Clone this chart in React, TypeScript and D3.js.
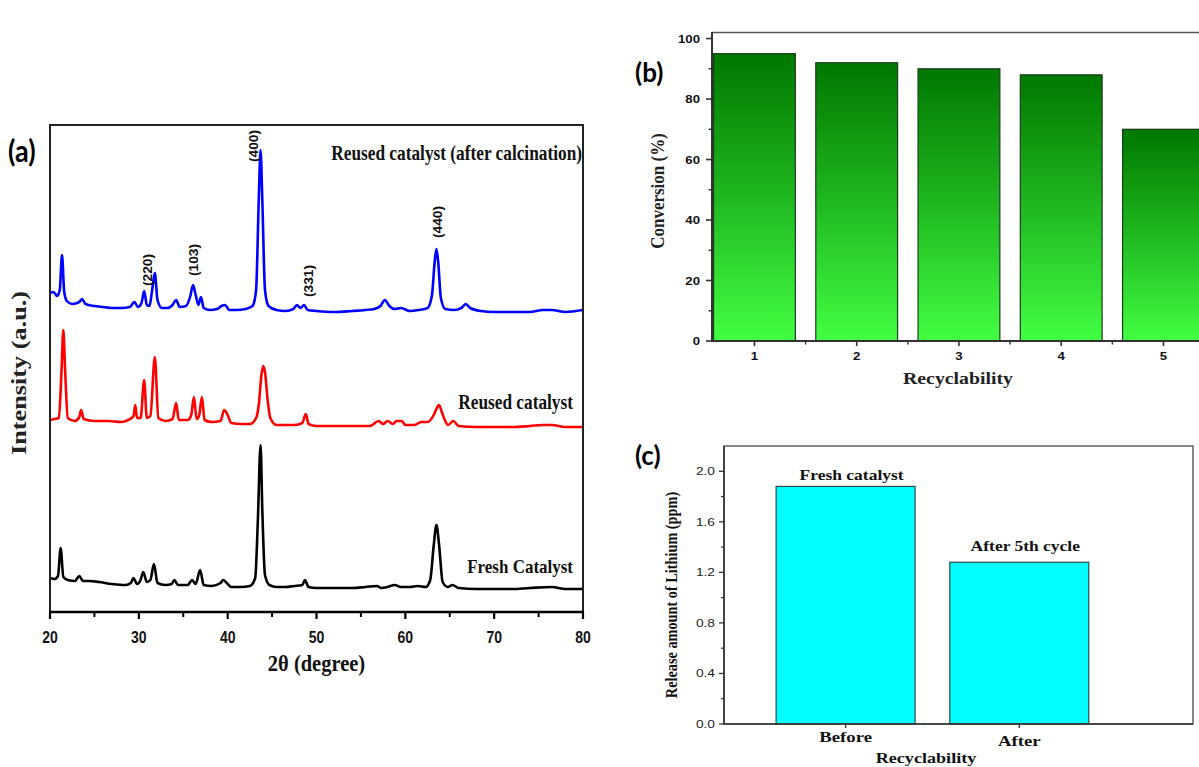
import React from 'react';
import * as d3 from 'd3';

// ---------- Panel (a): XRD patterns (2θ in degrees, intensity in a.u., stacked) ----------
const xrdTicks = [20, 30, 40, 50, 60, 70, 80];
const xrdMinorTicks = [25, 35, 45, 55, 65, 75];

const calcinedPattern: [number, number][] = [
  [20.0, 319], [20.4, 320], [20.8, 316], [21.1, 322], [21.35, 357], [21.6, 320], [21.9, 311],
  [22.5, 308], [23.3, 310], [23.6, 313], [24.0, 308], [25, 306], [26, 305], [27, 304], [28, 304],
  [29.0, 305], [29.5, 310], [29.9, 305], [30.3, 309], [30.6, 321], [30.9, 307], [31.2, 306],
  [31.5, 322], [31.8, 339], [32.1, 312], [32.6, 304], [33.2, 304], [33.8, 307], [34.2, 312],
  [34.6, 305], [35.3, 306], [35.8, 316], [36.1, 327], [36.4, 317], [36.7, 307], [37.0, 315],
  [37.3, 304], [38, 302], [38.8, 303], [39.3, 306], [39.7, 307], [40.2, 302], [41, 302], [42, 303],
  [42.8, 306], [43.2, 322], [43.5, 412], [43.7, 462], [43.9, 412], [44.2, 322], [44.6, 306],
  [45.5, 302], [46.5, 301], [47.4, 303], [47.8, 307], [48.2, 304], [48.6, 307], [49.0, 302],
  [50, 301], [52, 300], [54, 301], [55.5, 302], [56.5, 303], [57.2, 306], [57.7, 312], [58.2, 306],
  [58.8, 303], [59.5, 304], [60.5, 301], [61.5, 302], [62.5, 304], [63.0, 317], [63.3, 350],
  [63.5, 363], [63.7, 350], [64.0, 314], [64.5, 303], [65.5, 302], [66.3, 304], [66.8, 308],
  [67.3, 304], [68.5, 301], [70, 300], [72, 300], [74, 300], [75.5, 302], [76.5, 302], [78, 300], [80, 302],
];

const reusedPattern: [number, number][] = [
  [20.0, 192], [20.5, 193], [21.0, 194], [21.3, 242], [21.5, 282], [21.7, 242], [22.0, 194],
  [22.8, 191], [23.3, 195], [23.5, 202], [23.8, 193], [25, 191], [26.5, 191], [28, 190],
  [28.8, 192], [29.4, 196], [29.6, 207], [29.8, 194], [30.2, 194], [30.6, 232], [30.9, 194],
  [31.3, 196], [31.8, 255], [32.2, 194], [33, 191], [33.8, 193], [34.2, 209], [34.5, 192],
  [35.5, 192], [35.9, 197], [36.2, 215], [36.5, 193], [36.8, 197], [37.1, 215], [37.4, 192],
  [38.2, 190], [39.2, 191], [39.6, 202], [40.0, 197], [40.4, 189], [41.5, 188], [42.5, 188],
  [43.2, 194], [43.5, 207], [43.8, 237], [44.0, 246], [44.2, 240], [44.5, 212], [44.8, 194],
  [45.5, 187], [46.5, 187], [47.5, 187], [48.4, 189], [48.8, 198], [49.1, 188], [50, 186],
  [52, 186], [54, 186], [56, 186], [57.0, 191], [57.5, 188], [58.0, 191], [58.6, 188], [59.0, 191],
  [59.6, 191], [60, 187], [61, 187], [61.8, 190], [62.5, 190], [63.2, 197], [63.6, 205],
  [63.8, 207], [64.1, 200], [64.4, 193], [64.8, 187], [65.4, 191], [66, 186], [68, 185], [70, 185],
  [72, 185], [74, 186], [75.5, 187], [76.5, 187], [78, 185], [80, 185],
];

const freshPattern: [number, number][] = [
  [20, 34], [20.5, 33], [20.9, 36], [21.2, 64], [21.5, 35], [22, 32], [22.8, 31], [23.3, 36],
  [23.7, 31], [24.5, 31], [25.5, 30], [27, 28], [28.5, 27], [29.1, 29], [29.4, 34], [29.8, 28],
  [30.2, 32], [30.5, 40], [30.9, 30], [31.3, 32], [31.7, 48], [32.1, 29], [33, 27], [33.7, 28],
  [34.0, 32], [34.4, 27], [35.5, 27], [36.0, 32], [36.4, 28], [36.9, 42], [37.3, 27], [38.2, 26],
  [39.2, 29], [39.5, 32], [39.9, 29], [40.4, 25], [41.5, 25], [42.5, 26], [43.1, 34], [43.4, 92],
  [43.7, 167], [43.9, 102], [44.2, 37], [44.7, 27], [45.5, 25], [46.5, 25], [47.5, 26], [48.4, 27],
  [48.7, 32], [49.1, 25], [50, 24], [52, 24], [54, 24], [55.5, 25], [56.8, 26], [57.3, 24],
  [58, 25], [58.8, 27], [59.5, 25], [60.5, 25], [61.4, 26], [62.3, 25], [62.8, 32], [63.2, 67],
  [63.5, 87], [63.8, 67], [64.2, 30], [64.8, 25], [65.3, 27], [66, 24], [68, 23], [70, 23],
  [72, 23], [74, 24], [76.5, 25], [78, 23], [80, 23],
];

const peakHkl = ['(220)', '(103)', '(400)', '(331)', '(440)'];
const peakTheta = [30.92, 36.15, 42.85, 49.04, 63.57];
const peakLabelLevel = [342, 352, 466, 331, 390];

// ---------- Panel (b): conversion vs cycle ----------
const cycles = [1, 2, 3, 4, 5];
const conversion = [95, 92, 90, 88, 70];
const conversionTicks = [0, 20, 40, 60, 80, 100];
const conversionMinor = [10, 30, 50, 70, 90];

// ---------- Panel (c): lithium release ----------
const stages = ['Before', 'After'];
const lithium = [1.88, 1.28];
const stageNotes = ['Fresh catalyst', 'After 5th cycle'];
const lithiumTicks = [0, 0.4, 0.8, 1.2, 1.6, 2.0];
const lithiumMinor = [0.2, 0.6, 1.0, 1.4, 1.8];

const SERIF = "'Liberation Serif', 'Times New Roman', serif";
const SANS = "'Liberation Sans', Arial, sans-serif";
const TAG = "Lato, 'Open Sans', sans-serif";

function T(props: any) {
  const { x, y, sx = 1, sy = 1, rot = 0, children, ...rest } = props;
  return (
    <text transform={`translate(${x},${y}) rotate(${rot}) scale(${sx},${sy})`} {...rest}>
      {children}
    </text>
  );
}

export default function App() {
  // Panel (a) scales
  const xA = d3.scaleLinear().domain([20, 80]).range([50, 583]);
  const yA = d3.scaleLinear().domain([0, 487]).range([612, 125]);
  const lineA = d3
    .line<[number, number]>()
    .x((d) => xA(d[0]))
    .y((d) => yA(d[1]))
    .curve(d3.curveMonotoneX);

  // Panel (b) scales
  const xB = d3.scaleLinear().domain([0.585, 5.5]).range([712, 1214.6]);
  const yB = d3.scaleLinear().domain([0, 102]).range([341, 32.5]);
  const bwB = xB(1.4) - xB(0.6);

  // Panel (c) scales
  const xC = d3.scaleLinear().domain([0.3, 3.0]).range([724, 1193]);
  const yC = d3.scaleLinear().domain([0, 2.2]).range([724, 446]);
  const bwC = xC(1.4) - xC(0.6);

  const series = [
    { data: calcinedPattern, color: '#0000ff' },
    { data: reusedPattern, color: '#ff0000' },
    { data: freshPattern, color: '#000000' },
  ];

  return (
    <svg
      width={1199}
      height={767}
      style={{ position: 'absolute', left: 0, top: 0, background: '#ffffff' }}
    >
      <defs>
        <linearGradient id="greenGrad" x1="0" y1="0" x2="0" y2="1">
          <stop offset="0" stopColor="#007800" />
          <stop offset="0.5" stopColor="#20b820" />
          <stop offset="1" stopColor="#42ff42" />
        </linearGradient>
        <clipPath id="clipA">
          <rect x={50} y={125} width={533} height={487} />
        </clipPath>
      </defs>

      {/* ================= Panel (a) ================= */}
      <g clipPath="url(#clipA)">
        {series.map((s, i) => (
          <path
            key={i}
            d={lineA(s.data) || ''}
            fill="none"
            stroke={s.color}
            strokeWidth={2.6}
            strokeLinejoin="round"
          />
        ))}
      </g>
      <rect x={50} y={125} width={533} height={487} fill="none" stroke="#222" strokeWidth={2} />
      <line x1={49} x2={584} y1={612} y2={612} stroke="#000" strokeWidth={2.6} />
      {xrdTicks.map((t) => (
        <g key={t}>
          <line x1={xA(t)} x2={xA(t)} y1={612} y2={619} stroke="#000" strokeWidth={2.2} />
          <T x={xA(t)} y={643} sy={1.2} textAnchor="middle" fontFamily={SANS} fontWeight="bold" fontSize={14} fill="#111">
            {t}
          </T>
        </g>
      ))}
      {xrdMinorTicks.map((t) => (
        <line key={t} x1={xA(t)} x2={xA(t)} y1={612} y2={617} stroke="#000" strokeWidth={2} />
      ))}
      <T x={xA(50)} y={671} sy={1.15} textAnchor="middle" fontFamily={SERIF} fontWeight="bold" fontSize={20.5} fill="#111">
        2θ (degree)
      </T>
      <T x={26} y={373} rot={-90} sx={1.25} textAnchor="middle" fontFamily={SERIF} fontWeight="bold" fontSize={21} fill="#222">
        Intensity (a.u.)
      </T>
      {peakHkl.map((h, i) => (
        <T
          key={h}
          x={xA(peakTheta[i]) + 5}
          y={yA(peakLabelLevel[i])}
          rot={-90}
          sx={1.1}
          textAnchor="middle"
          fontFamily={SANS}
          fontWeight="bold"
          fontSize={12.5}
          fill="#111"
        >
          {h}
        </T>
      ))}
      <T x={582} y={160} sy={1.15} textAnchor="end" fontFamily={SERIF} fontWeight="bold" fontSize={17.3} fill="#111">
        Reused catalyst (after calcination)
      </T>
      <T x={573} y={409} sy={1.15} textAnchor="end" fontFamily={SERIF} fontWeight="bold" fontSize={17.3} fill="#111">
        Reused catalyst
      </T>
      <T x={573} y={573} sy={1.15} textAnchor="end" fontFamily={SERIF} fontWeight="bold" fontSize={17} fill="#111">
        Fresh Catalyst
      </T>
      <T x={8} y={162} sy={1.1} fontFamily={TAG} fontWeight="bold" fontSize={27} fill="#000">
        (a)
      </T>

      {/* ================= Panel (b) ================= */}
      {cycles.map((c, i) => (
        <rect
          key={c}
          x={xB(c) - bwB / 2}
          y={yB(conversion[i])}
          width={bwB}
          height={yB(0) - yB(conversion[i])}
          fill="url(#greenGrad)"
          stroke="#1d3a1d"
          strokeWidth={1.2}
        />
      ))}
      <line x1={712} x2={1199} y1={32.5} y2={32.5} stroke="#555" strokeWidth={1.5} />
      <line x1={712} x2={712} y1={32} y2={342} stroke="#333" strokeWidth={2} />
      <line x1={711} x2={1199} y1={341} y2={341} stroke="#333" strokeWidth={2} />
      {conversionTicks.map((t) => (
        <g key={t}>
          <line x1={706} x2={712} y1={yB(t)} y2={yB(t)} stroke="#333" strokeWidth={1.6} />
          <T x={700} y={yB(t) + 4} sx={1.2} textAnchor="end" fontFamily={SANS} fontWeight="bold" fontSize={11} fill="#111">
            {t}
          </T>
        </g>
      ))}
      {conversionMinor.map((t) => (
        <line key={t} x1={708.5} x2={712} y1={yB(t)} y2={yB(t)} stroke="#333" strokeWidth={1.4} />
      ))}
      {cycles.map((c) => (
        <g key={c}>
          <line x1={xB(c)} x2={xB(c)} y1={341} y2={346} stroke="#333" strokeWidth={1.6} />
          <T x={xB(c)} y={360} sx={1.2} textAnchor="middle" fontFamily={SANS} fontWeight="bold" fontSize={11} fill="#111">
            {c}
          </T>
        </g>
      ))}
      {cycles.slice(0, 4).map((c) => (
        <line key={c} x1={xB(c + 0.5)} x2={xB(c + 0.5)} y1={341} y2={344.5} stroke="#333" strokeWidth={1.4} />
      ))}
      <T x={958} y={384} sx={1.2} textAnchor="middle" fontFamily={SERIF} fontWeight="bold" fontSize={16.5} fill="#222">
        Recyclability
      </T>
      <T x={664} y={191} rot={-90} sy={1.15} textAnchor="middle" fontFamily={SERIF} fontWeight="bold" fontSize={17} fill="#222">
        Conversion (%)
      </T>
      <T x={635} y={82} sy={1.0} fontFamily={TAG} fontWeight="bold" fontSize={26} fill="#000">
        (b)
      </T>

      {/* ================= Panel (c) ================= */}
      {stages.map((s, i) => (
        <rect
          key={s}
          x={xC(i + 1) - bwC / 2}
          y={yC(lithium[i])}
          width={bwC}
          height={yC(0) - yC(lithium[i])}
          fill="#00ffff"
          stroke="#2a4a4a"
          strokeWidth={1.2}
        />
      ))}
      <rect x={724} y={446} width={469} height={278} fill="none" stroke="#555" strokeWidth={1.4} />
      <line x1={724} x2={724} y1={446} y2={724} stroke="#333" strokeWidth={1.6} />
      <line x1={724} x2={1193} y1={724} y2={724} stroke="#333" strokeWidth={1.6} />
      {lithiumTicks.map((t) => (
        <g key={t}>
          <line x1={719} x2={724} y1={yC(t)} y2={yC(t)} stroke="#333" strokeWidth={1.3} />
          <T x={715} y={yC(t) + 4} sx={1.25} textAnchor="end" fontFamily={SANS} fontSize={11} fill="#222">
            {t.toFixed(1)}
          </T>
        </g>
      ))}
      {lithiumMinor.map((t) => (
        <line key={t} x1={721} x2={724} y1={yC(t)} y2={yC(t)} stroke="#333" strokeWidth={1.2} />
      ))}
      {stages.map((s, i) => (
        <g key={s}>
          <line x1={xC(i + 1)} x2={xC(i + 1)} y1={724} y2={728} stroke="#333" strokeWidth={1.3} />
          <T x={xC(i + 1)} y={i === 0 ? 742 : 746} sx={1.25} textAnchor="middle" fontFamily={SERIF} fontWeight="bold" fontSize={15} fill="#111">
            {s}
          </T>
          <T
            x={xC(i + 1) + 6}
            y={yC(lithium[i]) - (i === 0 ? 6 : 11)}
            sx={1.25}
            textAnchor="middle"
            fontFamily={SERIF}
            fontWeight="bold"
            fontSize={14}
            fill="#111"
          >
            {stageNotes[i]}
          </T>
        </g>
      ))}
      <T x={926} y={763} sx={1.25} textAnchor="middle" fontFamily={SERIF} fontWeight="bold" fontSize={14.5} fill="#111">
        Recyclability
      </T>
      <T x={677} y={595} rot={-90} sy={1.15} textAnchor="middle" fontFamily={SERIF} fontWeight="bold" fontSize={14.3} fill="#111">
        Release amount of Lithium (ppm)
      </T>
      <T x={635} y={465} fontFamily={TAG} fontWeight="bold" fontSize={26} fill="#000">
        (c)
      </T>
    </svg>
  );
}
